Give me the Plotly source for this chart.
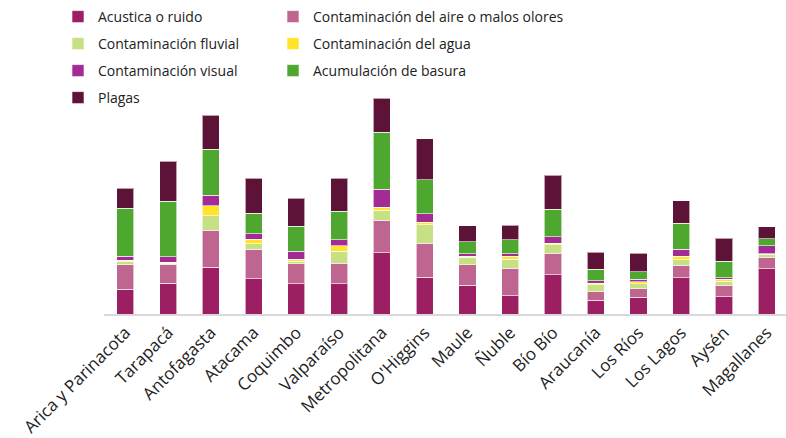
import plotly.graph_objects as go

regions = ["Arica y Parinacota", "Tarapacá", "Antofagasta", "Atacama", "Coquimbo",
           "Valparaíso", "Metropolitana", "O'Higgins", "Maule", "Ñuble", "Bío Bío",
           "Araucanía", "Los Ríos", "Los Lagos", "Aysén", "Magallanes"]

acustica = [24.7, 31.0, 46.7, 35.3, 30.3, 30.3, 61.3, 37.0, 29.0, 18.3, 39.3, 14.0, 16.7, 36.3, 17.3, 45.3]
aire     = [24.6, 18.3, 37.3, 29.7, 20.0, 20.7, 32.7, 34.0, 20.3, 27.4, 21.7, 8.3, 8.6, 12.4, 11.4, 11.7]
fluvial  = [3.7, 1.4, 14.3, 5.3, 2.7, 12.0, 9.7, 18.3, 7.4, 9.3, 8.3, 7.0, 5.0, 5.6, 4.3, 2.7]
agua     = [1.0, 1.0, 10.0, 4.7, 2.0, 5.3, 3.3, 2.7, 1.3, 3.0, 1.7, 1.7, 2.0, 3.7, 2.0, 0.5]
visual   = [3.7, 5.6, 10.4, 5.3, 7.7, 6.0, 18.0, 8.3, 2.3, 2.3, 6.3, 2.3, 2.7, 6.7, 1.3, 8.0]
basura   = [48.3, 55.4, 46.3, 20.4, 25.3, 28.7, 56.7, 34.0, 12.0, 14.0, 27.7, 11.4, 7.3, 26.3, 16.7, 7.3]
plagas   = [19.7, 40.0, 34.0, 35.0, 27.7, 32.7, 34.3, 41.0, 16.0, 14.7, 34.0, 17.3, 18.7, 22.3, 22.7, 11.7]

series = [
    ("Acustica o ruido", acustica, "#9C1F63", "legend"),
    ("Contaminación del aire o malos olores", aire, "#BE6590", "legend2"),
    ("Contaminación fluvial", fluvial, "#C5E184", "legend"),
    ("Contaminación del agua", agua, "#FFE42B", "legend2"),
    ("Contaminación visual", visual, "#A32C94", "legend"),
    ("Acumulación de basura", basura, "#4EA72E", "legend2"),
    ("Plagas", plagas, "#5D1238", "legend"),
]

fig = go.Figure()
for i, (name, vals, color, leg) in enumerate(series):
    fig.add_trace(go.Bar(
        x=regions, y=vals, name=name, legend=leg, legendgroup=f"g{i}",
        marker=dict(color=color, line=dict(color="rgba(255,255,255,0.6)", width=1)),
    ))

legend_common = dict(
    xref="container", yref="container", yanchor="top", xanchor="left",
    orientation="v", traceorder="grouped", tracegroupgap=5.8,
    font=dict(family="Open Sans", size=14, color="#222222"),
    bgcolor="rgba(0,0,0,0)",
)

fig.update_layout(
    width=786, height=438,
    barmode="stack", bargap=0.6,
    plot_bgcolor="white", paper_bgcolor="white",
    margin=dict(l=104, r=0, t=98, b=124, autoexpand=False),
    font=dict(family="Open Sans", color="#222222"),
    legend=dict(x=58 / 786, y=1 - 1 / 438, **legend_common),
    legend2=dict(x=273 / 786, y=1 - 1 / 438, **legend_common),
    xaxis=dict(range=[-0.5, 15.45], showline=True, linecolor="#d9d9d9", linewidth=2,
               tickangle=-45, tickfont=dict(family="Open Sans", size=17, color="#222222"),
               ticks="", showgrid=False, automargin=False),
    yaxis=dict(range=[0, 216], visible=False, showgrid=False, automargin=False),
)

fig.write_html("out.html")
